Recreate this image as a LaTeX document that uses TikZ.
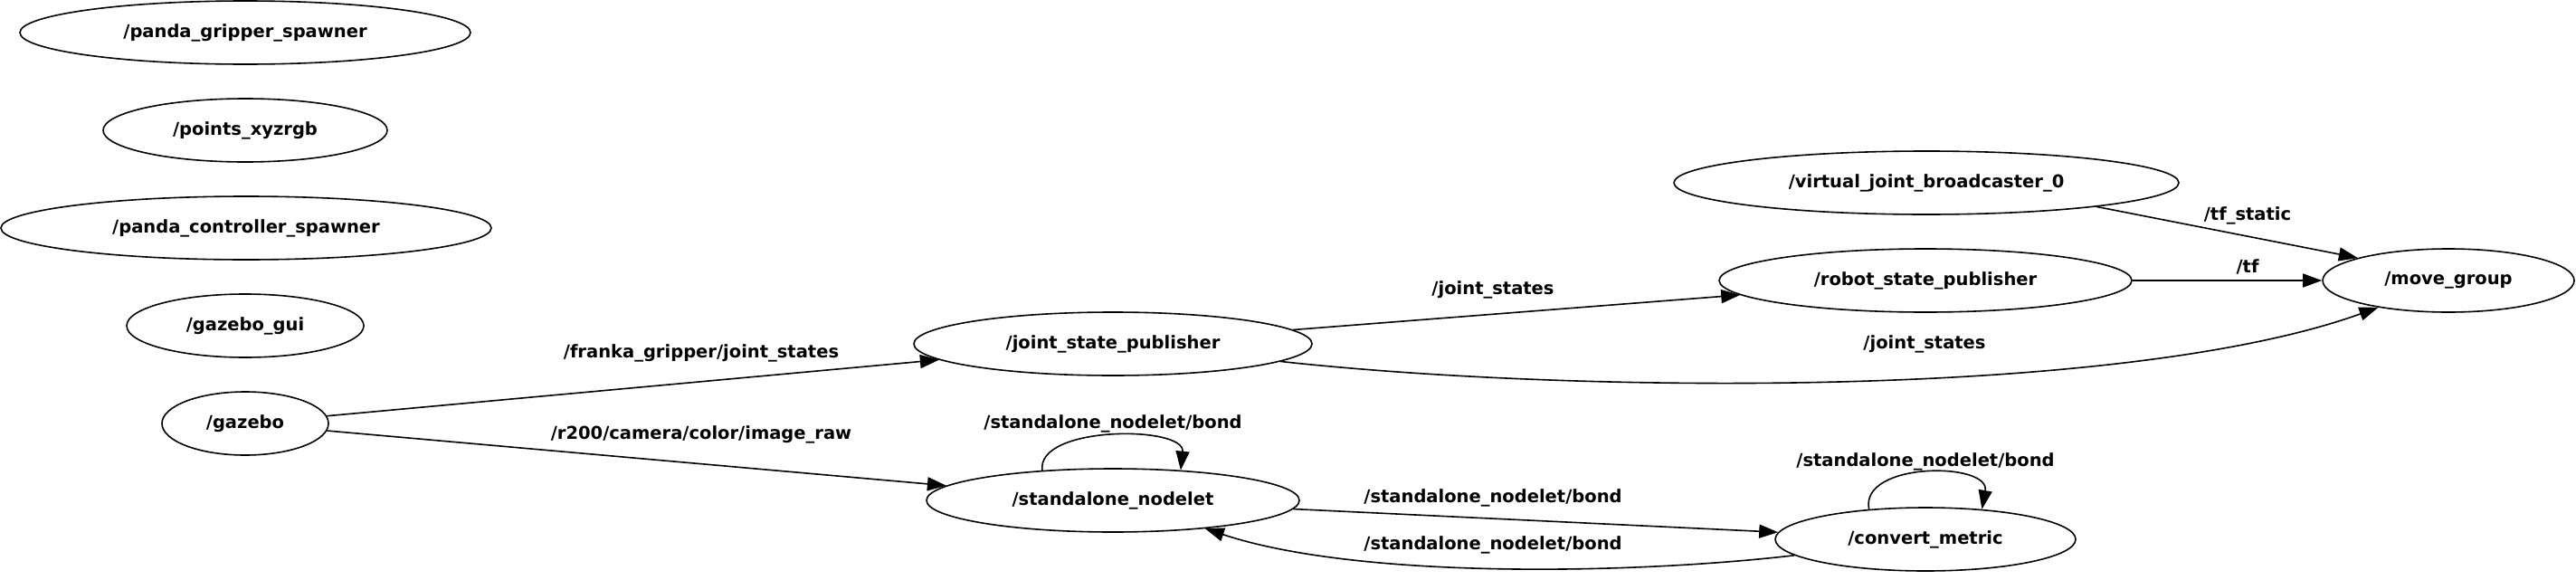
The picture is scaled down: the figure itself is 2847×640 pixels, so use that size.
\documentclass[tikz,border=0pt]{standalone}
\usepackage{fontspec}
\setmainfont{DejaVu Sans}
\usetikzlibrary{shapes.geometric,arrows.meta}
\begin{document}
\begin{tikzpicture}[x=1pt,y=-1pt,
  font=\fontsize{19.5}{22}\selectfont\bfseries,
  nd/.style={draw,ellipse,line width=1.6pt,inner sep=0pt,minimum height=70pt},
  lbl/.style={inner sep=0pt},
  edge/.style={line width=1.6pt,-{Triangle[length=21pt,width=15pt]}}]
\useasboundingbox (0,0) rectangle (2847,640);
% nodes
\node[nd,minimum width=498pt] (pgs) at (271,36) {/panda\_gripper\_spawner};
\node[nd,minimum width=314pt] (pxyz) at (271,144) {/points\_xyzrgb};
\node[nd,minimum width=542pt] (pcs) at (272,252) {/panda\_controller\_spawner};
\node[nd,minimum width=262pt] (gui) at (271,360) {/gazebo\_gui};
\node[nd,minimum width=184pt] (gz) at (271,468) {/gazebo};
\node[nd,minimum width=440pt] (jsp) at (1230,380) {/joint\_state\_publisher};
\node[nd,minimum width=412pt] (sn) at (1230,553) {/standalone\_nodelet};
\node[nd,minimum width=332pt] (cm) at (2128,596) {/convert\_metric};
\node[nd,minimum width=558pt] (vjb) at (2129,202) {/virtual\_joint\_broadcaster\_0};
\node[nd,minimum width=456pt] (rsp) at (2128,310) {/robot\_state\_publisher};
\node[nd,minimum width=278pt] (mg) at (2706,310) {/move\_group};
% edges
\draw[edge] (gz) -- (jsp);
\node[lbl] (l1) at (775,390) {/franka\_gripper/joint\_states};
\draw[edge] (gz) -- (sn);
\node[lbl] (l2) at (775,480) {/r200/camera/color/image\_raw};
\draw[edge] (jsp) -- (rsp);
\node[lbl] (l3) at (1650,320) {/joint\_states};
\draw[edge] (jsp.-6) .. controls (1750,436) and (2350,440) .. (mg.201);
\node[lbl] (l4) at (2127,380) {/joint\_states};
\draw[edge] (vjb.-8) -- (mg.166);
\node[lbl] (l5) at (2484,238) {/tf\_static};
\draw[edge] (rsp) -- (mg);
\node[lbl] (l6) at (2484,295) {/tf};
\draw[edge] (sn.157) .. controls (1145,470) and (1310,470) .. (sn.24);
\node[lbl] (l7) at (1230,468) {/standalone\_nodelet/bond};
\draw[edge] (sn) -- (cm);
\node[lbl] (l8) at (1650,550) {/standalone\_nodelet/bond};
\draw[edge] (cm.187) .. controls (1800,635) and (1500,640) .. (sn.-17);
\node[lbl] (l9) at (1650,602) {/standalone\_nodelet/bond};
\draw[edge] (cm.152) .. controls (2055,510) and (2200,510) .. (cm.28);
\node[lbl] (l10) at (2128,510) {/standalone\_nodelet/bond};
\end{tikzpicture}
\end{document}
